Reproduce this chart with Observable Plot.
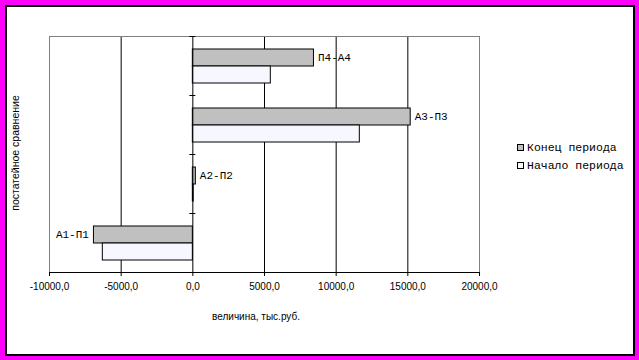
<!DOCTYPE html>
<html>
<head>
<meta charset="utf-8">
<script src="https://cdn.jsdelivr.net/npm/d3@7"></script>
<script src="https://cdn.jsdelivr.net/npm/@observablehq/plot@0.6"></script>
<style>
  html, body { margin: 0; padding: 0; background: #ff00ff; }
  #wrap { position: relative; width: 639px; height: 360px; background: #ff00ff; overflow: hidden; }
  #inner { position: absolute; left: 5px; top: 5px; width: 626px; height: 347px; border: 2px solid #000; background: #fff; }
  #chart { position: absolute; left: 0; top: 0; }
  #chart svg { background: transparent; }
  .xtitle { position: absolute; left: 196px; top: 311px; width: 120px; text-align: center; font: 10px "Liberation Sans", Arial, sans-serif; color: #000; }
  .ytitle { position: absolute; left: 15px; top: 153px; transform: translate(-50%, -50%) rotate(-90deg); white-space: nowrap; font: 10.5px "Liberation Sans", Arial, sans-serif; color: #000; }
  .legend { position: absolute; left: 517px; top: 138px; font: 11.5px "Liberation Mono", "Courier New", monospace; color: #000; }
  .legend .item { display: flex; align-items: center; height: 18px; white-space: nowrap; }
  .legend .sw { width: 5px; height: 5px; border: 1px solid #000; margin-right: 3px; }
</style>
</head>
<body>
<div id="wrap">
  <div id="inner"></div>
  <div id="chart"></div>
  <div class="xtitle">величина, тыс.руб.</div>
  <div class="ytitle">постатейное сравнение</div>
  <div class="legend" id="legend"></div>
</div>
<script>
// Categories (top to bottom as displayed)
const categories = ["П4-А4", "А3-П3", "А2-П2", "А1-П1"];
// Series values, thousand roubles
const konecPerioda = [8450, 15200, 210, -6900];   // Конец периода
const nachaloPerioda = [5440, 11650, 60, -6280];  // Начало периода
const seriesNames = ["Конец периода", "Начало периода"];
const seriesColors = ["#c0c0c0", "#f7f7ff"];
const xTicks = [-10000, -5000, 0, 5000, 10000, 15000, 20000];
const gridTicks = [-5000, 5000, 10000, 15000];

const konec = categories.map((c, i) => ({category: c, value: konecPerioda[i]}));
const nachalo = categories.map((c, i) => ({category: c, value: nachaloPerioda[i]}));

const fmt = d => (d < 0 ? "-" : "") + Math.abs(d).toFixed(1).replace(".", ",");
const mono = "'Liberation Mono', 'Courier New', monospace";

const chart = Plot.plot({
  width: 639,
  height: 360,
  marginLeft: 49,
  marginRight: 160,
  marginTop: 36,
  marginBottom: 88,
  style: {background: "transparent", fontFamily: "'Liberation Sans', Arial, sans-serif", fontSize: "10px", color: "#000"},
  x: {domain: [-10000, 20000], ticks: xTicks, tickFormat: fmt, label: null},
  y: {domain: categories, padding: 0, axis: null},
  marks: [
    Plot.ruleX(gridTicks, {stroke: "#000", strokeWidth: 1}),
    Plot.frame({stroke: "#808080"}),
    Plot.barX(konec, {x: "value", y: "category", fill: seriesColors[0], stroke: "#000", strokeWidth: 1, insetTop: 13, insetBottom: 29}),
    Plot.barX(nachalo, {x: "value", y: "category", fill: seriesColors[1], stroke: "#000", strokeWidth: 1, insetTop: 30, insetBottom: 12}),
    Plot.ruleX([0], {stroke: "#000", strokeWidth: 1}),
    Plot.ruleY(categories, {y: d => d, x1: 0, x2: 0, insetLeft: -3, insetRight: -3, dy: -29.5, stroke: "#000"}),
    Plot.text(konec.filter(d => d.value >= 0), {x: "value", y: "category", text: "category", textAnchor: "start", dx: 4, dy: -9, fontFamily: mono, fontSize: 11, fill: "#000"}),
    Plot.text(konec.filter(d => d.value < 0), {x: "value", y: "category", text: "category", textAnchor: "end", dx: -5, dy: -9, fontFamily: mono, fontSize: 11, fill: "#000"}),
    Plot.frame({anchor: "bottom", stroke: "#000"}),
    Plot.axisX({ticks: xTicks, tickFormat: fmt, tickSize: 4, tickPadding: 6, label: null, stroke: "#000", fill: "#000", fontSize: 10})
  ]
});
document.getElementById("chart").appendChild(chart);

const legend = document.getElementById("legend");
seriesNames.forEach((name, i) => {
  const item = document.createElement("div");
  item.className = "item";
  const sw = document.createElement("div");
  sw.className = "sw";
  sw.style.background = seriesColors[i];
  const t = document.createElement("span");
  t.textContent = name;
  item.appendChild(sw);
  item.appendChild(t);
  legend.appendChild(item);
});
</script>
</body>
</html>
